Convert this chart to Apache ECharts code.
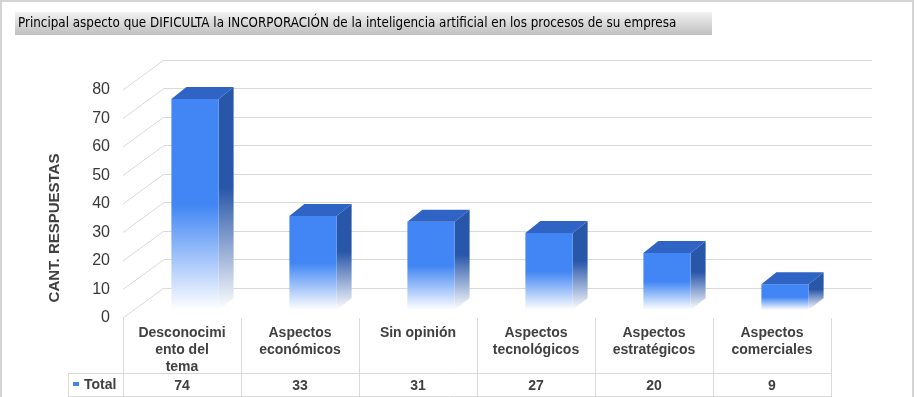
<!DOCTYPE html>
<html>
<head>
<meta charset="utf-8">
<script src="https://cdn.jsdelivr.net/npm/echarts@6/dist/echarts.min.js"></script>
<style>
  html, body { margin: 0; padding: 0; background: #fff; }
  #main { width: 917px; height: 397px; }
</style>
</head>
<body>
<div id="main"></div>
<script>
// categories and values
var categories = ['Desconocimiento del tema', 'Aspectos económicos', 'Sin opinión',
  'Aspectos tecnológicos', 'Aspectos estratégicos', 'Aspectos comerciales'];
var tickLabels = ['Desconocimi\nento del\ntema', 'Aspectos\neconómicos', 'Sin opinión',
  'Aspectos\ntecnológicos', 'Aspectos\nestratégicos', 'Aspectos\ncomerciales'];
var totals = [74, 33, 31, 27, 20, 9];
var yTicks = [0, 10, 20, 30, 40, 50, 60, 70, 80];

var chart = echarts.init(document.getElementById('main'));

var textColor = '#404040';
var lineColor = '#d9d9d9';

function fade(c, mid) {
  return new echarts.graphic.LinearGradient(0, 0, 0, 1, [
    { offset: 0, color: c },
    { offset: mid, color: c },
    { offset: 1, color: '#ffffff' }
  ]);
}

function renderBar(params, api) {
  var i = api.value(0);
  var top = api.coord([i, api.value(1)]);
  var base = api.coord([i, 0]);
  var w = api.size([1, 0])[0] * 0.4;
  var cx = top[0] + 13;
  var l = cx - w / 2, r = cx + w / 2;
  var t = top[1] - 8, b = base[1] - 8;
  var dx = 15, dy = -12;
  return {
    type: 'group',
    children: [
      { type: 'polygon', shape: { points: [[r, t], [r + dx, t + dy], [r + dx, b + dy], [r, b]] },
        style: { fill: fade('#2856a9', 0.45) } },
      { type: 'rect', shape: { x: l, y: t, width: w, height: b - t },
        style: { fill: fade('#4186f4', 0.5) } },
      { type: 'polygon', shape: { points: [[l, t], [l + dx, t + dy], [r + dx, t + dy], [r, t]] },
        style: { fill: '#2f63c4' } }
    ]
  };
}

function renderDiag(params, api) {
  var y = api.coord([0, api.value(0)])[1];
  var x = params.coordSys.x;
  return { type: 'line', shape: { x1: x, y1: y, x2: x + 41, y2: y - 30 },
    style: { stroke: lineColor, lineWidth: 1 } };
}

chart.setOption({
  animation: false,
  grid: [
    { left: 123, right: 86, top: 90, bottom: 79 },
    { left: 164, right: 45, top: 60, bottom: 109 }
  ],
  xAxis: [{
    type: 'category', gridIndex: 0, data: tickLabels,
    axisLine: { show: false },
    axisTick: { show: true, length: 79, lineStyle: { color: lineColor } },
    axisLabel: { interval: 0, margin: 7, fontFamily: 'Arial', fontSize: 14,
      fontWeight: 'bold', color: textColor, lineHeight: 17 }
  }, {
    type: 'category', gridIndex: 0, position: 'bottom', offset: 56,
    data: totals.map(String),
    axisLine: { show: false }, axisTick: { show: false },
    axisLabel: { interval: 0, margin: 5, fontFamily: 'Arial', fontSize: 14,
      fontWeight: 'bold', color: textColor }
  }, {
    type: 'category', gridIndex: 1, data: categories, show: false
  }],
  yAxis: [{
    type: 'value', gridIndex: 0, min: 0, max: 80, interval: 10,
    axisLine: { show: false }, axisTick: { show: false }, splitLine: { show: false },
    axisLabel: { margin: 13, fontFamily: 'Arial', fontSize: 16, color: '#383838' }
  }, {
    type: 'value', gridIndex: 1, min: 0, max: 80, interval: 10,
    axisLine: { show: false }, axisTick: { show: false }, axisLabel: { show: false },
    splitLine: { show: true, lineStyle: { color: lineColor, width: 1 } }
  }],
  series: [{
    type: 'custom', xAxisIndex: 0, yAxisIndex: 0,
    data: yTicks.map(function (v) { return [v]; }),
    renderItem: renderDiag, silent: true, z: 1
  }, {
    name: 'Total', type: 'custom', xAxisIndex: 0, yAxisIndex: 0,
    data: totals.map(function (v, i) { return [i, v]; }),
    renderItem: renderBar, z: 3
  }],
  graphic: [
    { type: 'rect', shape: { x: 1, y: 1, width: 912, height: 400 },
      style: { fill: 'none', stroke: '#d4d4d4', lineWidth: 2 } },
    { type: 'rect', shape: { x: 15, y: 12, width: 697, height: 23 },
      style: { fill: new echarts.graphic.LinearGradient(0, 0, 0, 1, [
        { offset: 0, color: '#f2f2f2' }, { offset: 1, color: '#bfbfbf' }]) } },
    { type: 'text', x: 18, y: 24,
      style: { text: 'Principal aspecto que DIFICULTA la INCORPORACIÓN de la inteligencia artificial en los procesos de su empresa',
        fontFamily: 'DejaVu Sans Condensed', fontSize: 13.3, fill: '#000', verticalAlign: 'middle' } },
    { type: 'text', x: 55, y: 228, rotation: Math.PI / 2,
      style: { text: 'CANT. RESPUESTAS', fontFamily: 'Arial', fontSize: 15, fontWeight: 'bold',
        fill: textColor, align: 'center', verticalAlign: 'middle' } },
    { type: 'line', shape: { x1: 68, y1: 373.5, x2: 831, y2: 373.5 }, style: { stroke: lineColor } },
    { type: 'line', shape: { x1: 68, y1: 396.5, x2: 831, y2: 396.5 }, style: { stroke: lineColor } },
    { type: 'line', shape: { x1: 68.5, y1: 373, x2: 68.5, y2: 397 }, style: { stroke: lineColor } },
    { type: 'rect', shape: { x: 73, y: 382, width: 6, height: 4 }, style: { fill: '#4186f4' } },
    { type: 'text', x: 84, y: 385,
      style: { text: 'Total', fontFamily: 'Arial', fontSize: 14, fontWeight: 'bold',
        fill: textColor, verticalAlign: 'middle' } }
  ]
});
</script>
</body>
</html>
